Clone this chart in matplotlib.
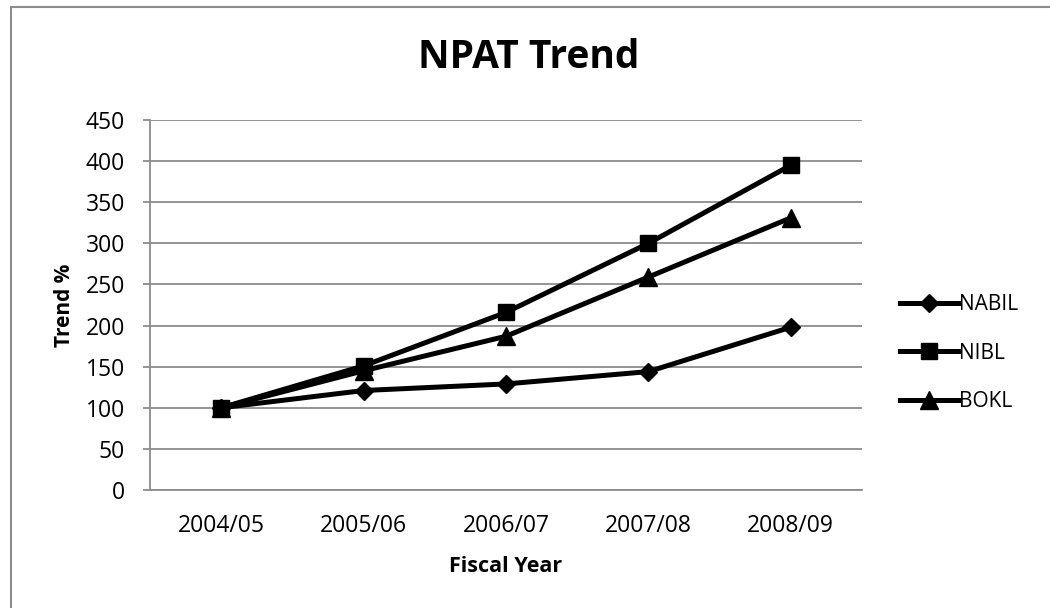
import matplotlib
matplotlib.use("Agg")
import matplotlib.pyplot as plt
from matplotlib.patches import Rectangle

plt.rcParams['font.family'] = ['Open Sans', 'DejaVu Sans']

years = ["2004/05", "2005/06", "2006/07", "2007/08", "2008/09"]
nabil = [100, 121, 129, 144, 198]
nibl = [100, 151, 216, 300, 395]
bokl = [100, 145, 187, 259, 331]
y_ticks = [0, 50, 100, 150, 200, 250, 300, 350, 400, 450]

fig = plt.figure(figsize=(10.5, 6.08), dpi=100)
fig.patches.append(Rectangle((11 / 1050, -0.05), 1.2, 1 - 7 / 608 + 0.05,
                             transform=fig.transFigure, fill=False,
                             edgecolor='#8c8c8c', linewidth=1.5))

ax = fig.add_axes([150 / 1050, 1 - 490 / 608, (862 - 150) / 1050, (490 - 120) / 608])
x = list(range(len(years)))

ax.plot(x, nabil, color='black', lw=3.6, marker='D', ms=9.5, label='NABIL', zorder=3)
ax.plot(x, nibl, color='black', lw=3.6, marker='s', ms=12, label='NIBL', zorder=3)
ax.plot(x, bokl, color='black', lw=3.6, marker='^', ms=13, label='BOKL', zorder=3)

ax.set_xlim(-0.5, len(years) - 0.5)
ax.set_ylim(0, 450)
ax.set_yticks(y_ticks)
ax.set_xticks(x)
ax.set_xticklabels(years)
ax.yaxis.grid(True, color='#8c8c8c', lw=1.3)
ax.set_axisbelow(True)
for s in ['top', 'right']:
    ax.spines[s].set_visible(False)
for s in ['left', 'bottom']:
    ax.spines[s].set_color('#8c8c8c')
    ax.spines[s].set_linewidth(1.3)
ax.tick_params(axis='y', length=5, color='#8c8c8c', width=1.3, labelsize=16.5, pad=13)
ax.tick_params(axis='x', length=0, labelsize=16.5, pad=17)

ax.set_xlabel('Fiscal Year', fontsize=15.5, fontweight='bold', labelpad=13)
ax.set_ylabel('Trend %', fontsize=15, fontweight='bold', labelpad=8)
fig.suptitle('NPAT Trend', x=529 / 1050, y=1 - 58 / 608, va='center',
             fontsize=28, fontweight='bold')

leg = ax.legend(loc='center left', bbox_to_anchor=(1.053, 0.37), frameon=False,
                fontsize=15, handlelength=2.8, handletextpad=0.05,
                labelspacing=1.32, borderaxespad=0, borderpad=0)

fig.savefig('out.png', dpi=100)
